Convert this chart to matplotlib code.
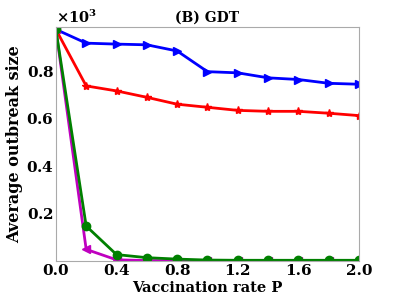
import matplotlib
matplotlib.use("Agg")
import matplotlib.pyplot as plt
from matplotlib.ticker import ScalarFormatter

plt.rcParams['font.family'] = 'DejaVu Serif'
plt.rcParams['font.weight'] = 'bold'
plt.rcParams['mathtext.fontset'] = 'dejavuserif'
plt.rcParams['mathtext.default'] = 'bf'

p = [0.0, 0.2, 0.4, 0.6, 0.8, 1.0, 1.2, 1.4, 1.6, 1.8, 2.0]
blue = [975, 917, 913, 910, 884, 797, 792, 771, 764, 748, 744]
red = [975, 737, 716, 689, 660, 647, 634, 630, 630, 622, 612]
green = [975, 147, 27, 14, 8, 4, 3, 3, 3, 3, 3]
magenta = [975, 49, 5, 2, 1, 1, 1, 1, 1, 1, 1]

fig = plt.figure(figsize=(3.99, 3.0), dpi=100)
ax = fig.add_axes([0.14, 0.13, 0.76, 0.78])

ax.plot(p, blue, color='blue', marker='>', ms=6, lw=2)
ax.plot(p, red, color='red', marker='*', ms=6, lw=2)
ax.plot(p, magenta, color='m', marker='<', ms=6, lw=2)
ax.plot(p, green, color='green', marker='o', ms=6, lw=2)

ax.set_xlim(0, 2.0)
ax.set_ylim(0, 985)
ax.set_xticks([0.0, 0.4, 0.8, 1.2, 1.6, 2.0])
ax.set_yticks([200, 400, 600, 800])
fmt = ScalarFormatter(useMathText=True)
fmt.set_powerlimits((3, 3))
ax.yaxis.set_major_formatter(fmt)
ax.yaxis.get_offset_text().set_fontsize(10.5)
ax.tick_params(length=0, labelsize=11)
ax.tick_params(axis='y', pad=1.5)
ax.tick_params(axis='x', pad=2)
for s in ax.spines.values():
    s.set_color('#aaaaaa')

ax.set_title('(B) GDT', fontsize=10, fontweight='bold', pad=4)
ax.set_xlabel('Vaccination rate P', fontsize=10.5, fontweight='bold', labelpad=2.5)
ax.set_ylabel('Average outbreak size', fontsize=11.5, fontweight='bold', labelpad=2)

fig.savefig('out.png', dpi=100)
